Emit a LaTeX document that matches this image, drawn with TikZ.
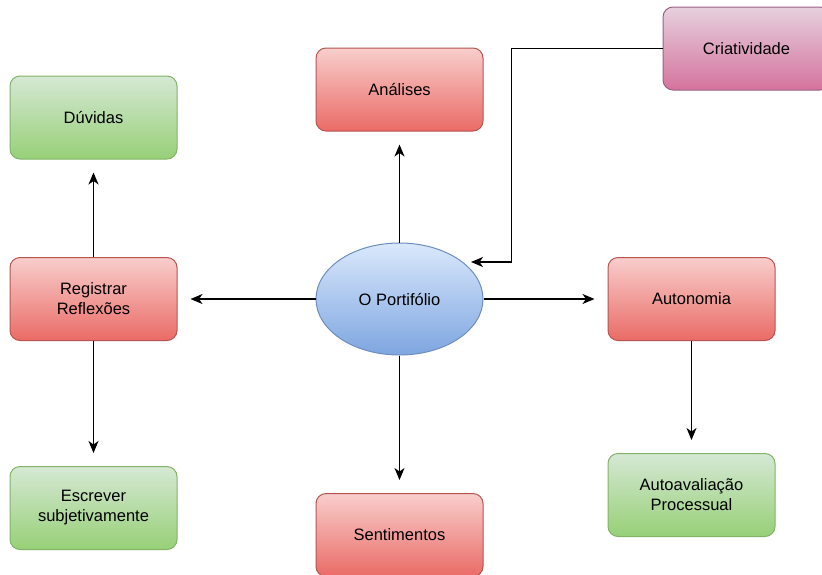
\documentclass[tikz,border=0pt]{standalone}
\usepackage{fontspec}
\setmainfont{Liberation Sans}
\usepackage{tikz}
\usetikzlibrary{arrows.meta}
\usetikzlibrary{shapes.geometric}
\tikzset{box/.style = {rectangle, rounded corners = 10, minimum width = 167, minimum height = 83, align = center, font = \fontsize{16.5}{20}\selectfont, line width = 1}}
\tikzset{redbox/.style = {box, draw = mred, top color = mredtop, bottom color = mredbot}}
\tikzset{greenbox/.style = {box, draw = mgreen, top color = mgreentop, bottom color = mgreenbot}}
\tikzset{pinkbox/.style = {box, draw = mpink, top color = mpinktop, bottom color = mpinkbot}}
\tikzset{tip/.style = {-{Stealth[length = 12, width = 10, inset = 3.5]}, line width = 1.3}}
\tikzset{link/.style = {tip, shorten > = 13}}
\definecolor{mred}{HTML}{B85450}
\definecolor{mredtop}{HTML}{F8CECC}
\definecolor{mredbot}{HTML}{EA6B66}
\definecolor{mgreen}{HTML}{82B366}
\definecolor{mgreentop}{HTML}{D5E8D4}
\definecolor{mgreenbot}{HTML}{97D077}
\definecolor{mpink}{HTML}{996185}
\definecolor{mpinktop}{HTML}{E6D0DE}
\definecolor{mpinkbot}{HTML}{D5739D}
\definecolor{mblue}{HTML}{6C8EBF}
\definecolor{mbluetop}{HTML}{DAE8FC}
\definecolor{mbluebot}{HTML}{7EA6E0}

\begin{document}
\begin{tikzpicture}[x = 1pt, y = -1pt]
    \useasboundingbox (0, 0) rectangle (822, 574);

    \node [ellipse, draw = mblue, line width = 1, top color = mbluetop, bottom color = mbluebot, minimum width = 167, minimum height = 112, inner sep = 0, font = \fontsize{16.5}{20}\selectfont] (por) at (399.5, 299) {O Portifólio};

    \node [greenbox] (duv) at (93.5, 117.5) {Dúvidas};
    \node [redbox] (reg) at (93.5, 299) {Registrar\\Reflexões};
    \node [greenbox] (esc) at (93.5, 508) {Escrever\\subjetivamente};
    \node [redbox] (ana) at (399.5, 89.5) {Análises};
    \node [redbox] (sen) at (399.5, 535) {Sentimentos};
    \node [redbox] (aut) at (691.5, 299) {Autonomia};
    \node [greenbox] (ava) at (691.5, 495) {Autoavaliação\\Processual};
    \node [pinkbox] (cri) at (746.5, 48.5) {Criatividade};
    \coordinate (kp) at (471, 262);

    \draw [link] (reg) -- (duv);
    \draw [link] (reg) -- (esc);
    \draw [link] (por) -- (reg);
    \draw [link] (por) -- (ana);
    \draw [link] (por) -- (sen);
    \draw [link] (por) -- (aut);
    \draw [link] (aut) -- (ava);
    \draw [tip] (cri.west) -- ++(-151, 0) |- (kp);
  \end{tikzpicture}
\end{document}
